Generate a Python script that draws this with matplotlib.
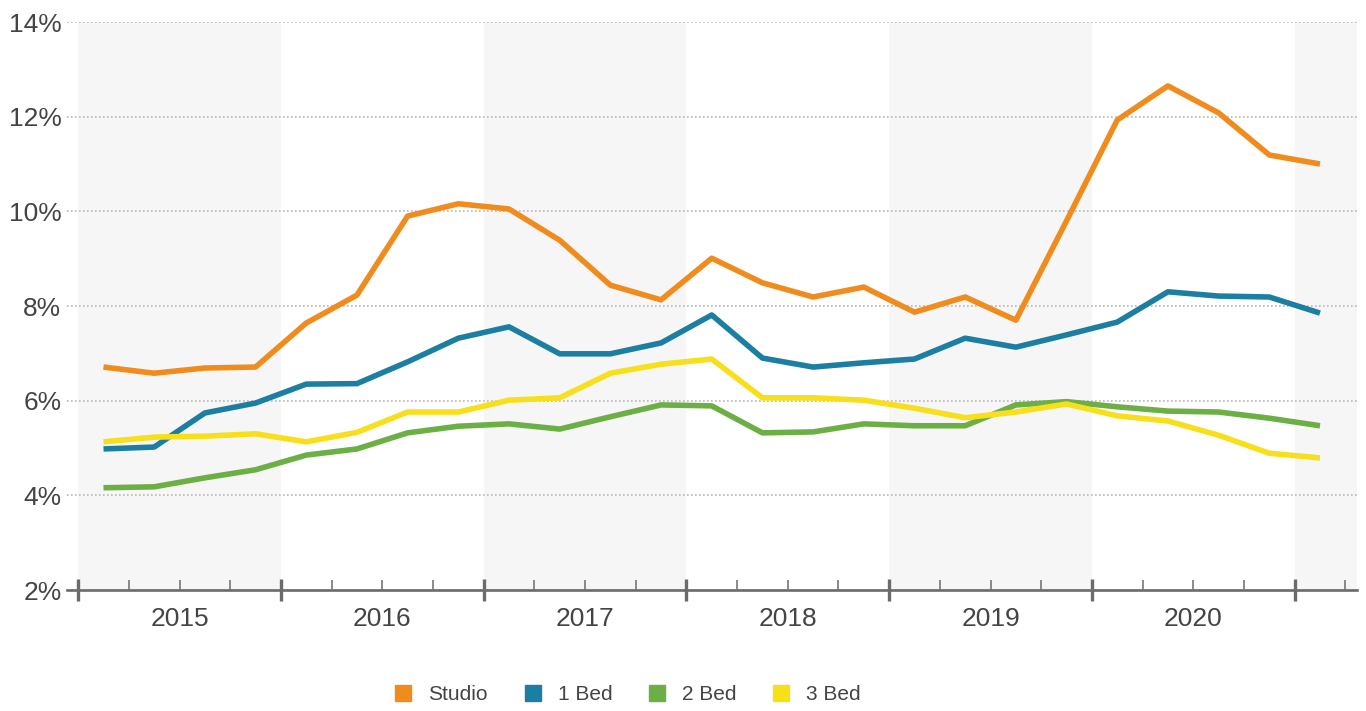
import numpy as np
import matplotlib.pyplot as plt
from matplotlib.lines import Line2D

plt.rcParams["font.family"] = ["Liberation Sans", "DejaVu Sans"]

# quarterly series, 2015 Q1 .. 2021 Q1
quarters = [f"{y} Q{q}" for y in range(2015, 2021) for q in range(1, 5)] + ["2021 Q1"]
years = ["2015", "2016", "2017", "2018", "2019", "2020"]

studio = [6.71, 6.58, 6.69, 6.71, 7.64, 8.23, 9.90, 10.16, 10.05, 9.39, 8.44, 8.13,
          9.01, 8.49, 8.19, 8.40, 7.87, 8.19, 7.70, 9.80, 11.93, 12.65, 12.08, 11.19, 11.00]
one_bed = [4.98, 5.02, 5.74, 5.95, 6.35, 6.36, 6.82, 7.32, 7.56, 6.99, 6.99, 7.22,
           7.81, 6.90, 6.71, 6.80, 6.88, 7.32, 7.13, 7.39, 7.66, 8.30, 8.21, 8.19, 7.85]
two_bed = [4.16, 4.18, 4.37, 4.54, 4.85, 4.98, 5.32, 5.46, 5.51, 5.40, 5.66, 5.91,
           5.89, 5.32, 5.34, 5.51, 5.47, 5.47, 5.91, 5.98, 5.87, 5.78, 5.76, 5.63, 5.47]
three_bed = [5.13, 5.23, 5.25, 5.30, 5.13, 5.33, 5.76, 5.76, 6.01, 6.06, 6.58, 6.77,
             6.88, 6.06, 6.06, 6.01, 5.84, 5.64, 5.76, 5.93, 5.68, 5.57, 5.27, 4.89, 4.79]

series = [
    ("Studio", studio, "#F08C1E"),
    ("1 Bed", one_bed, "#1C7FA1"),
    ("2 Bed", two_bed, "#6BAF45"),
    ("3 Bed", three_bed, "#F7DF1C"),
]

text_color = "#444444"
axis_color = "#6b6b6b"

fig = plt.figure(figsize=(13.66, 7.11), dpi=100)
ax = fig.add_axes([67 / 1366, 121 / 711, 1290 / 1366, 568 / 711])

# one point per quarter, centred in its quarter
x = np.arange(len(quarters)) + 0.5
n_q = len(quarters)

# alternating year bands
for k in range(0, n_q, 8):
    ax.axvspan(k, min(k + 4, n_q + 0.25), color="#f6f6f6", zorder=0, lw=0)

for name, vals, col in series:
    ax.plot(x, vals, color=col, lw=4, solid_joinstyle="round",
            solid_capstyle="butt", label=name, zorder=3)

ax.set_xlim(-0.22, n_q + 0.23)
ax.set_ylim(2, 14)

ax.set_yticks(np.arange(2, 15, 2))
ax.set_yticklabels([f"{v}%" for v in range(2, 15, 2)])
ax.yaxis.grid(True, linestyle=(0, (1, 1.4)), color="#b8b8b8", lw=1.2)
ax.set_axisbelow(True)

ax.set_xticks(np.arange(0, n_q, 4))
ax.set_xticks([q for q in range(n_q + 1) if q % 4], minor=True)
ax.set_xticklabels([])

ax.tick_params(axis="y", length=0, pad=4, labelsize=19, labelcolor=text_color)
ax.tick_params(axis="x", which="major", direction="inout", length=16,
               width=2.4, color=axis_color)
ax.tick_params(axis="x", which="minor", direction="in", length=7,
               width=1.1, color=axis_color)

for side in ["left", "top", "right"]:
    ax.spines[side].set_visible(False)
ax.spines["bottom"].set_color(axis_color)
ax.spines["bottom"].set_linewidth(1.9)

for k, yr in enumerate(years):
    ax.text(4 * k + 2, -0.051, yr, transform=ax.get_xaxis_transform(),
            ha="center", va="center", fontsize=19, color=text_color)

handles = [Line2D([], [], marker="s", linestyle="none", markersize=11,
                  markerfacecolor=col, markeredgecolor=col)
           for _, _, col in series]
fig.legend(handles, [s[0] for s in series], loc="center",
           bbox_to_anchor=(628 / 1366, 16 / 711), ncol=4, frameon=False,
           fontsize=15, handlelength=0.8, handletextpad=0.8,
           columnspacing=1.75, labelcolor=text_color)

fig.savefig("out.png", dpi=100)
